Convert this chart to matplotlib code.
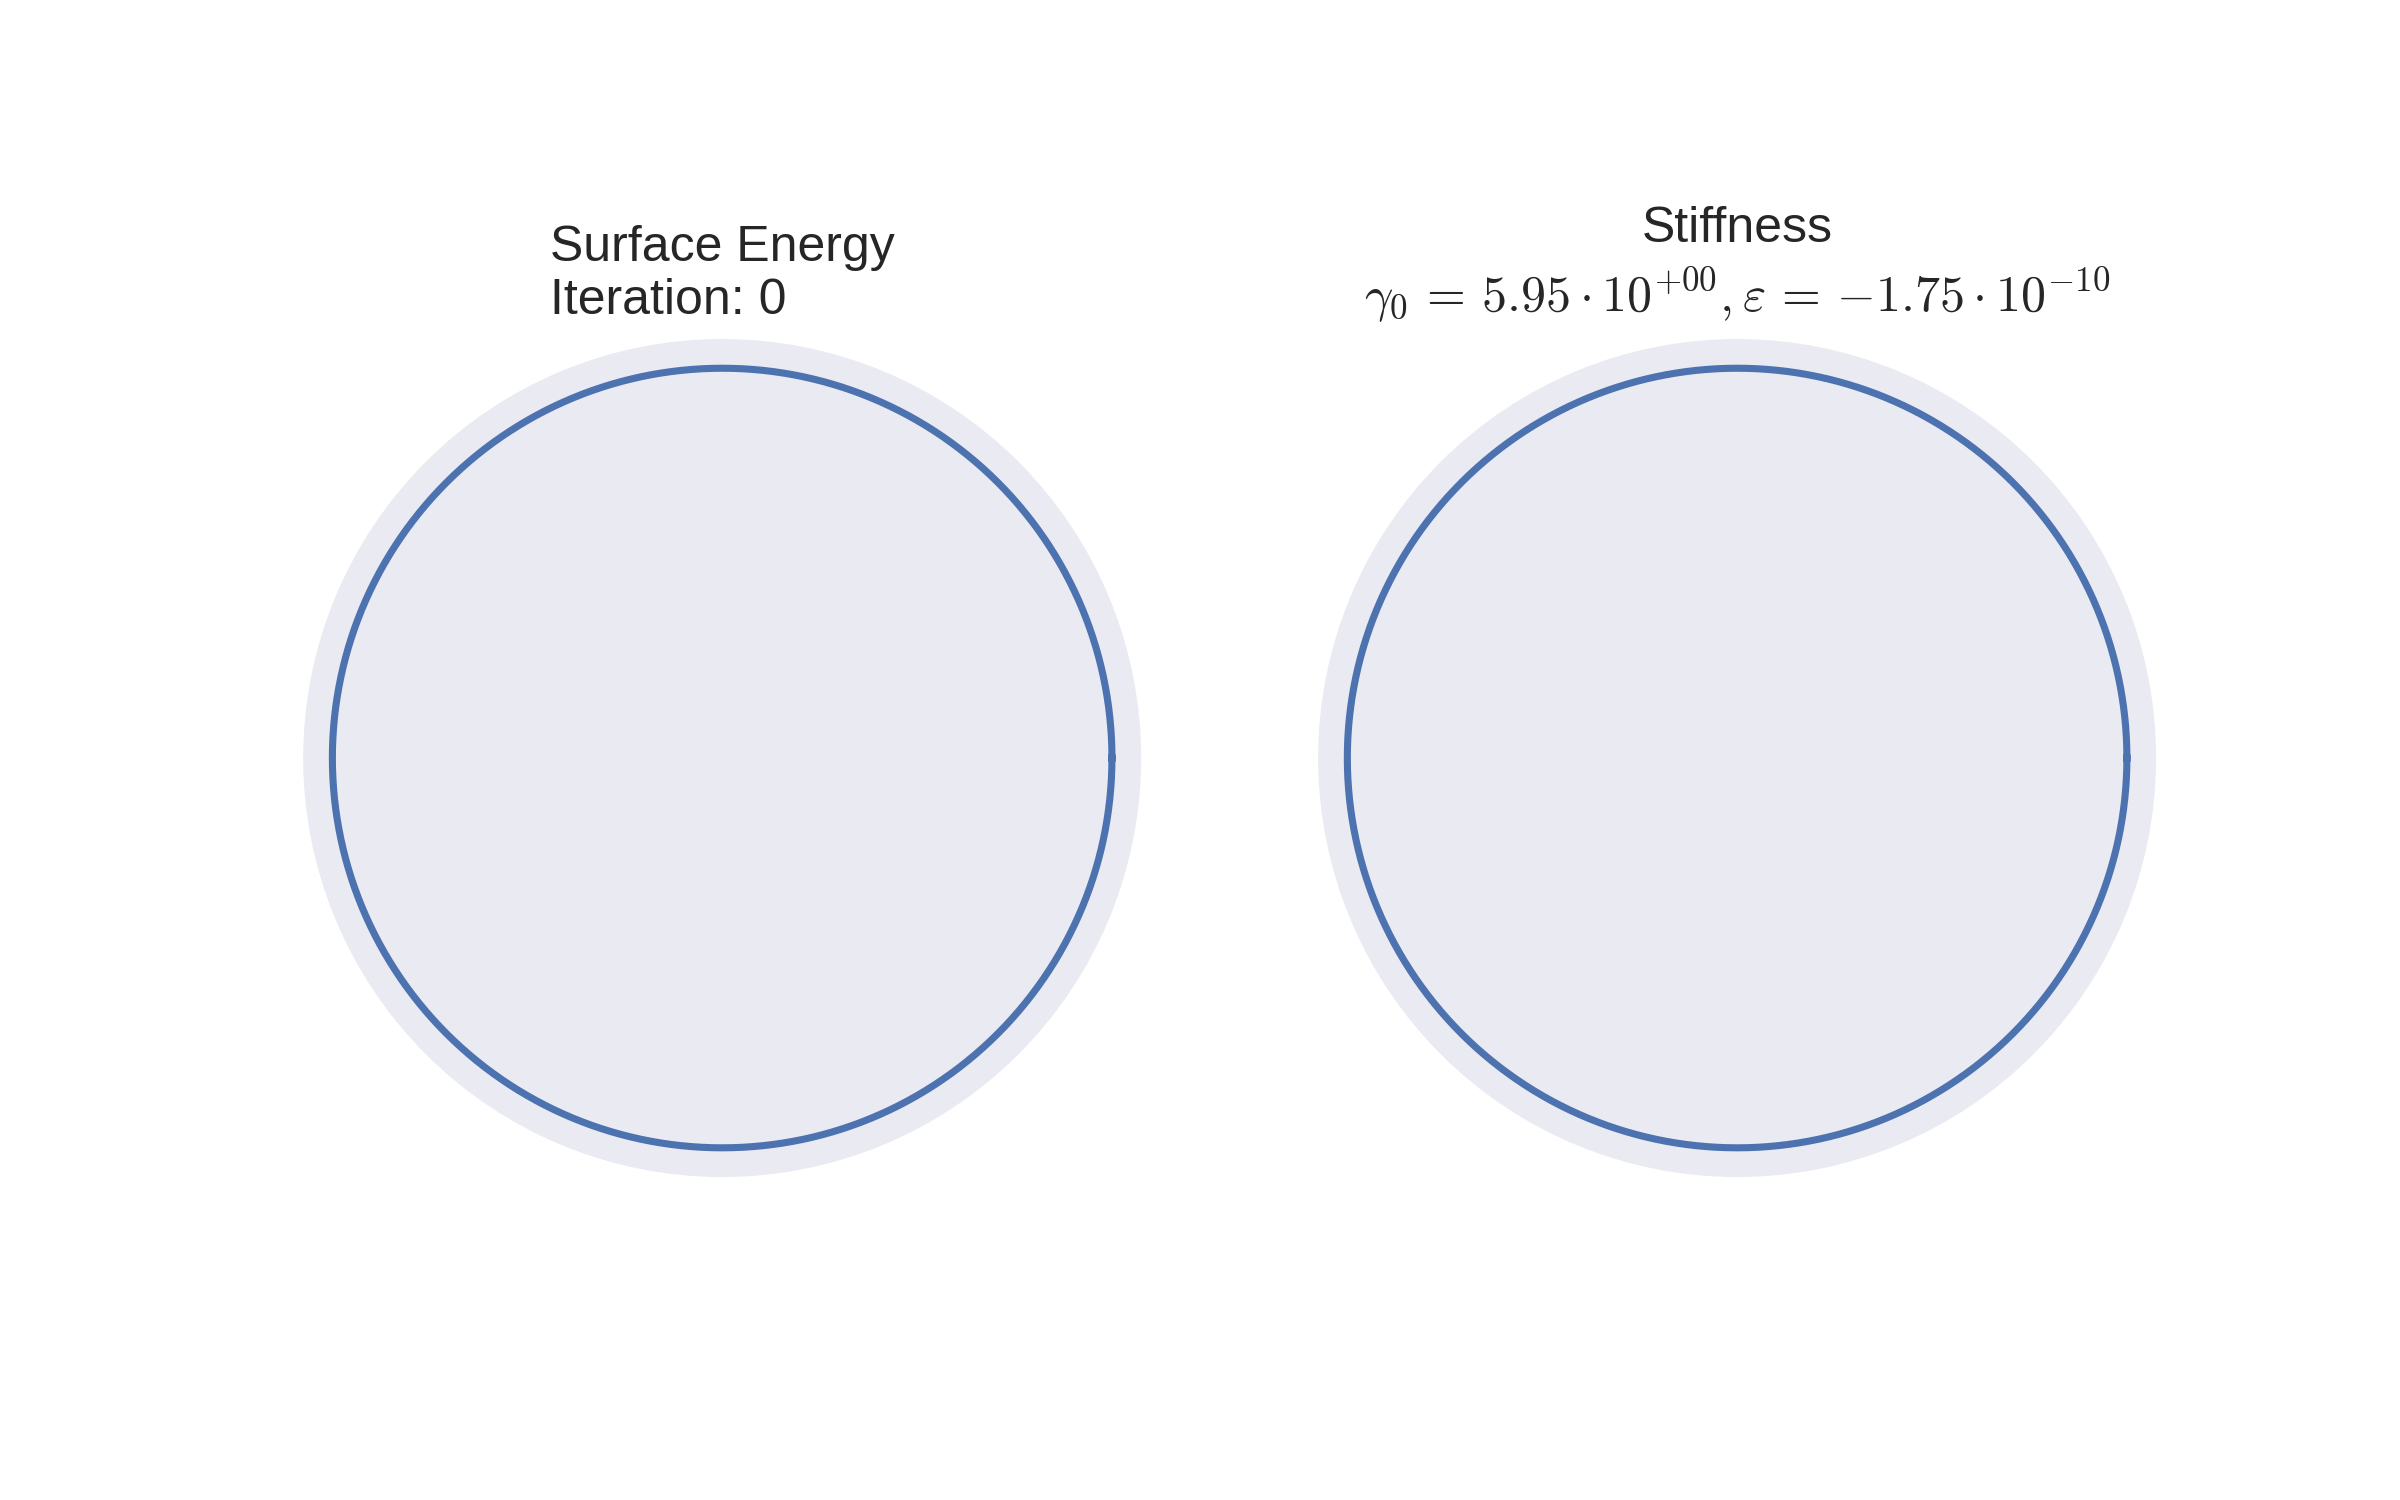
import numpy as np
import matplotlib.pyplot as plt

# polar shape data: both panels show a plain circle at iteration 0
n_angles = 721
theta = np.linspace(0, 2 * np.pi, n_angles)
surface_energy_r = np.full(n_angles, 1.0)
stiffness_r = np.full(n_angles, 1.0)
r_max = 1.075

titles = ["Surface Energy\nIteration: 0",
          "Stiffness\n" r"$\gamma_0 \,=\, 5.95 \cdot 10^{+00}, \varepsilon \,=\, {-}1.75 \cdot 10^{-10}$"]

plt.rcParams['font.family'] = ['Liberation Sans', 'DejaVu Sans']
plt.rcParams['mathtext.fontset'] = 'cm'

fig = plt.figure(figsize=(16, 10), dpi=150)
ax1 = fig.add_axes([0.1263, 0.2153, 0.3492, 0.5587], projection='polar')
ax2 = fig.add_axes([0.5492, 0.2153, 0.3492, 0.5587], projection='polar')

for ax, r, title in zip([ax1, ax2], [surface_energy_r, stiffness_r], titles):
    ax.set_facecolor('#EAEAF2')
    ax.plot(theta, r, color='#4C72B0', lw=3.4)
    ax.set_ylim(0, r_max)
    ax.set_xticks([])
    ax.set_yticks([])
    ax.grid(False)
    ax.spines['polar'].set_visible(False)

ax1.set_title(titles[0], fontsize=24, color='#262626', multialignment='left', pad=12)
ax2.set_title(titles[1], fontsize=24, color='#262626', pad=13, linespacing=1.3)

fig.savefig('out.png', dpi=150)
